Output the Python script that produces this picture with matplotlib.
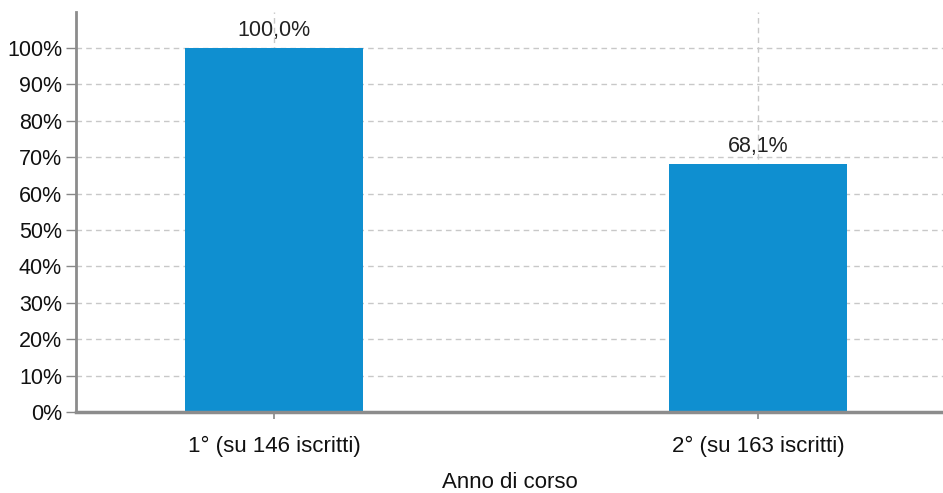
import matplotlib
matplotlib.use("Agg")
import matplotlib.pyplot as plt
from matplotlib.ticker import FuncFormatter

categories = ["1° (su 146 iscritti)", "2° (su 163 iscritti)"]
values = [100.0, 68.1]
labels = ["100,0%", "68,1%"]
yticks = [0, 10, 20, 30, 40, 50, 60, 70, 80, 90, 100]

plt.rcParams['font.family'] = ['Liberation Sans', 'DejaVu Sans']

fig = plt.figure(figsize=(9.43, 4.93), dpi=100)
W, H = 943, 493
ax = fig.add_axes([76 / W, 1 - 412 / H, (943 - 76) / W, (412 - 12) / H])

x = list(range(len(categories)))
ax.bar(x, values, width=0.366, color="#0F8FD0", zorder=3)
for xi, v, lab in zip(x, values, labels):
    ax.text(xi, v + 1.9, lab, ha="center", va="bottom", fontsize=15.5, color="#222222", zorder=4)

ax.set_xlim(-0.409, 1.382)
ax.set_ylim(0, 109.9)
ax.set_yticks(yticks)
ax.yaxis.set_major_formatter(FuncFormatter(lambda v, p: f"{int(v)}%"))
ax.set_xticks(x)
ax.set_xticklabels(categories, fontsize=16)
ax.tick_params(axis="y", labelsize=15.5, colors="#888888", labelcolor="#111111", length=7, width=1, pad=3)
ax.tick_params(axis="x", colors="#888888", labelcolor="#111111", length=5, width=1.2, pad=12)

ax.grid(True, axis="both", linestyle=(0, (4, 3)), color="#c8c8c8", linewidth=1, zorder=0)
for s in ["top", "right"]:
    ax.spines[s].set_visible(False)
ax.spines["left"].set_color("#8c8c8c")
ax.spines["left"].set_linewidth(2)
ax.spines["bottom"].set_color("#8c8c8c")
ax.spines["bottom"].set_linewidth(2.5)
ax.spines["bottom"].set_zorder(5)

ax.set_xlabel("Anno di corso", fontsize=16, color="#111111", va="center")
ax.xaxis.set_label_coords(0.5, -(482 - 412) / 400)

fig.savefig("out.png", dpi=100)
